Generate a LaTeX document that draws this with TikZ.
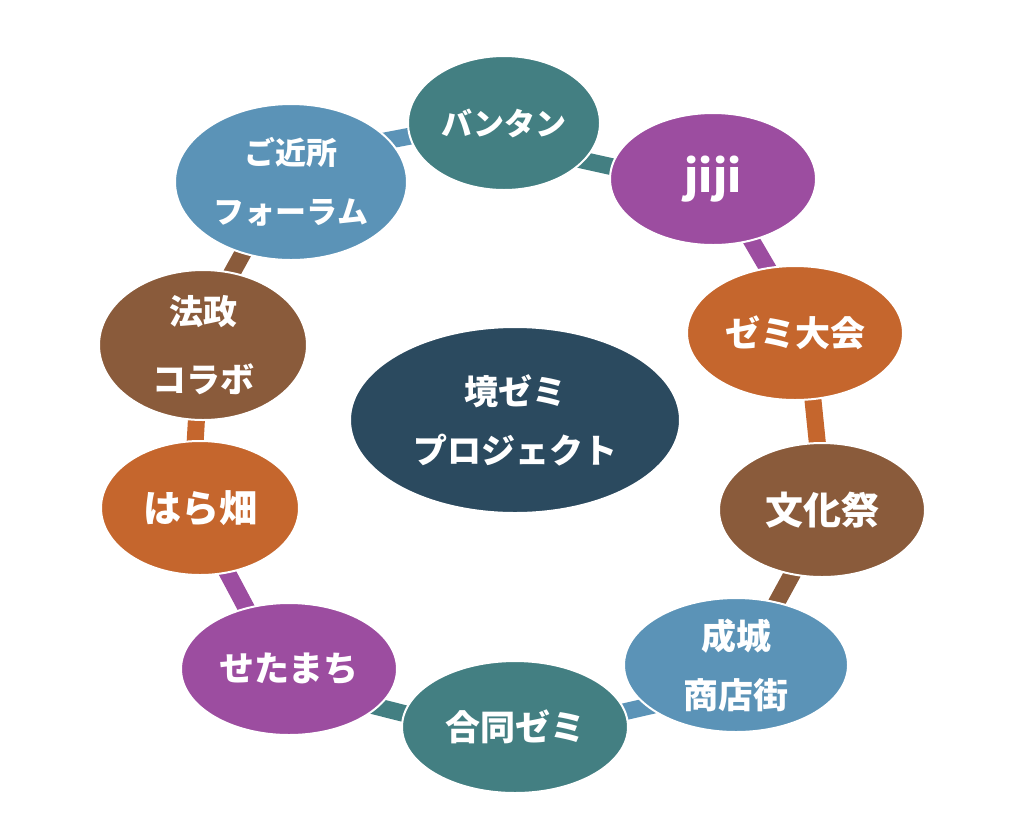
\documentclass[tikz,border=0pt]{standalone}
\usepackage{fontspec}
\setmainfont{Noto Sans CJK JP}
\usetikzlibrary{shapes.geometric}
\pgfdeclarelayer{bg}
\pgfsetlayers{bg,main}
\definecolor{cteal}{HTML}{437F82}
\definecolor{cpurple}{HTML}{9C4DA0}
\definecolor{corange}{HTML}{C5662D}
\definecolor{cbrown}{HTML}{8A5B3B}
\definecolor{cblue}{HTML}{5B93B7}
\definecolor{cdark}{HTML}{2B4A5F}
\begin{document}
\begin{tikzpicture}[x=1pt,y=-1pt,
  blob/.style={ellipse, draw=white, line width=2pt, inner sep=0pt, text=white, align=center},
  link/.style={line width=17pt, shorten <=-8pt, shorten >=-8pt}]
\useasboundingbox (0,0) rectangle (1024,839);
\node[blob, fill=cblue, minimum width=232pt, minimum height=156pt, font=\bfseries\fontsize{31}{59}\selectfont] (gokin) at (291,182) {ご近所\\フォーラム};
\node[blob, fill=cteal, minimum width=192pt, minimum height=134pt, font=\bfseries\fontsize{31}{40}\selectfont] (bantan) at (504,123) {バンタン};
\node[blob, fill=cpurple, minimum width=206pt, minimum height=132pt, font=\bfseries\fontsize{44}{50}\selectfont] (jiji) at (713,179) {jiji};
\node[blob, fill=corange, minimum width=216pt, minimum height=134pt, font=\bfseries\fontsize{35}{45}\selectfont] (zemi) at (795,333) {ゼミ大会};
\node[blob, fill=cbrown, minimum width=206pt, minimum height=134pt, font=\bfseries\fontsize{38}{48}\selectfont] (bunka) at (822,510) {文化祭};
\node[blob, fill=cblue, minimum width=224pt, minimum height=134pt, font=\bfseries\fontsize{35}{59}\selectfont] (seijo) at (736,665) {成城\\商店街};
\node[blob, fill=cteal, minimum width=226pt, minimum height=132pt, font=\bfseries\fontsize{35}{45}\selectfont] (godo) at (515,727) {合同ゼミ};
\node[blob, fill=cpurple, minimum width=216pt, minimum height=132pt, font=\bfseries\fontsize{35}{45}\selectfont] (seta) at (289,669) {せたまち};
\node[blob, fill=corange, minimum width=198pt, minimum height=134pt, font=\bfseries\fontsize{38}{48}\selectfont] (hara) at (200,508) {はら畑};
\node[blob, fill=cbrown, minimum width=208pt, minimum height=150pt, font=\bfseries\fontsize{34}{68}\selectfont] (hosei) at (203,345) {法政\\コラボ};
\node[blob, fill=cdark, minimum width=330pt, minimum height=186pt, font=\bfseries\fontsize{34}{59}\selectfont] (center) at (515,420) {境ゼミ\\プロジェクト};
\begin{pgfonlayer}{bg}
\draw[link, cblue] (gokin.23) -- (bantan.188);
\draw[link, cteal] (bantan.-25) -- (jiji.173);
\draw[link, cpurple] (jiji.-58) -- (zemi.113);
\draw[link, corange] (zemi.-75) -- (bunka.94);
\draw[link, cbrown] (bunka.245) -- (seijo.57);
\draw[link, cblue] (seijo.205) -- (godo.8);
\draw[link, cteal] (godo.173) -- (seta.-23);
\draw[link, cpurple] (seta.125) -- (hara.-67);
\draw[link, corange] (hara.94) -- (hosei.265);
\draw[link, cbrown] (hosei.68) -- (gokin.236);
\end{pgfonlayer}
\end{tikzpicture}
\end{document}
